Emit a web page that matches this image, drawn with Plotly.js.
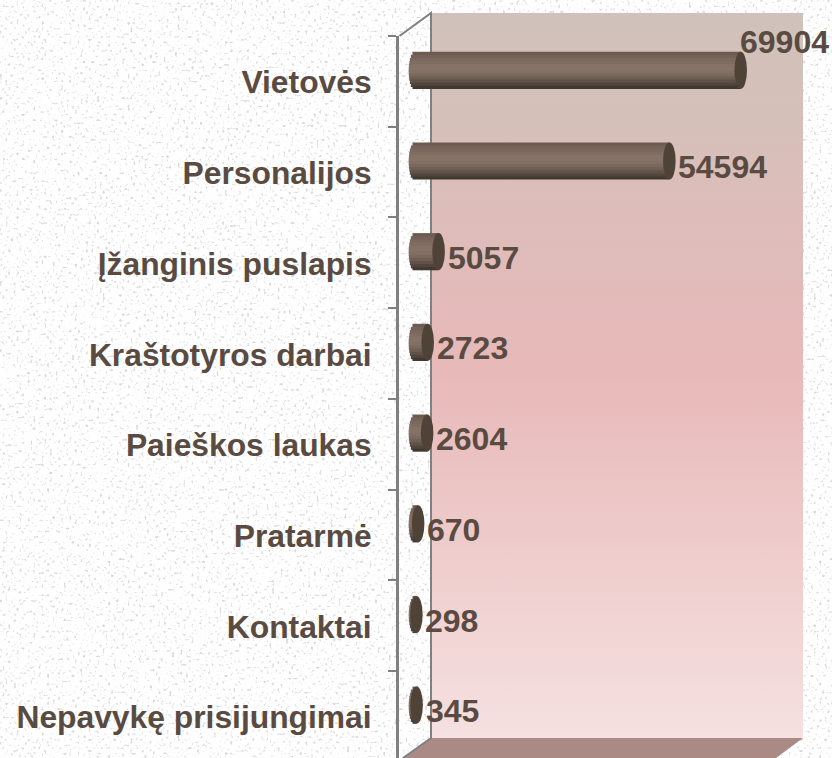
<!DOCTYPE html>
<html>
<head>
<meta charset="utf-8">
<script src="https://cdn.plot.ly/plotly-3.0.1.min.js"></script>
<style>
html,body{margin:0;padding:0;width:832px;height:758px;overflow:hidden;background:#f7f7f5}
#bg{position:absolute;left:0;top:0}
#chart{position:absolute;left:0;top:0;width:832px;height:758px}
.annotation-text,.ytick text{font-weight:bold !important}
</style>
</head>
<body>
<svg id="bg" width="832" height="758" xmlns="http://www.w3.org/2000/svg">
  <defs>
    <filter id="paper" x="0" y="0" width="100%" height="100%">
      <feTurbulence type="fractalNoise" baseFrequency="0.36" numOctaves="1" seed="11"/>
      <feColorMatrix type="matrix" values="0 0 0 0 0.70  0 0 0 0 0.70  0 0 0 0 0.70  0 0 0 7 -4.2"/>
      <feGaussianBlur stdDeviation="0.4"/>
    </filter>
    <linearGradient id="wall" x1="0" y1="0" x2="0" y2="1">
      <stop offset="0" stop-color="#cfc2ba"/>
      <stop offset="0.5" stop-color="#e8b9b9"/>
      <stop offset="1" stop-color="#f5e1e0"/>
    </linearGradient>
  </defs>
  <rect width="832" height="758" fill="#fefefe"/>
  <rect width="832" height="758" filter="url(#paper)"/>
  <polygon points="431,738 803,738 776,758 404,758" fill="#ab8a86"/>
  <rect x="431" y="13" width="372" height="725" fill="url(#wall)"/>
  <path d="M399.5,36 L431,13 L431,738 L403,758" fill="none" stroke="#808080" stroke-width="2"/>
</svg>
<div id="chart"></div>
<script>
var categories = ["Vietovės","Personalijos","Įžanginis puslapis","Kraštotyros darbai","Paieškos laukas","Pratarmė","Kontaktai","Nepavykę prisijungimai"];
var visits = [69904,54594,5057,2723,2604,670,298,345];
var bandColors = ["#6d5b50","#74625a","#7a685c","#806d61","#857165","#867266","#827064","#7a695e","#6e5e53","#60524a","#51463e","#41382f"];
var capColor = "#4f4338";
var textColor = "#5a4b42";
var fontFamily = "Liberation Sans, Arial, sans-serif";

var barThickness = 0.41;
var depthLift = 0.122;
var capHalfWidth = 1350;
var n = bandColors.length;
var traces = bandColors.map(function(col, k){
  var t = ((k + 0.5) / n) * 2 - 1;
  var inset = capHalfWidth * Math.sqrt(1 - t * t);
  return {
    type: "bar", orientation: "h", y: categories,
    x: visits.map(function(v){ return v + inset; }),
    base: -inset,
    width: barThickness / n + (k < n - 1 ? 0.014 : 0),
    offset: -depthLift - barThickness / 2 + k * barThickness / n,
    marker: {color: col, line: {width: 0}},
    hoverinfo: "skip", showlegend: false
  };
});

var shapes = visits.map(function(v, i){
  return {type: "circle", xref: "x", yref: "y", layer: "above",
    x0: v - capHalfWidth, x1: v + capHalfWidth,
    y0: i - depthLift - barThickness / 2, y1: i - depthLift + barThickness / 2,
    fillcolor: capColor, line: {width: 0}};
});

var annotations = visits.map(function(v, i){
  var first = i === 0;
  return {xref: "x", yref: "y", x: v, y: categories[i], text: String(v),
    showarrow: false, xanchor: "left", yanchor: "middle",
    xshift: first ? -1 : 9, yshift: first ? 39 : 5, borderpad: 0, borderwidth: 0,
    font: {family: fontFamily, size: 32, color: textColor}};
});

var layout = {
  width: 832, height: 758,
  margin: {l: 399, r: 0, t: 36, b: 0, pad: 0},
  paper_bgcolor: "rgba(0,0,0,0)", plot_bgcolor: "rgba(0,0,0,0)",
  barmode: "overlay", showlegend: false,
  xaxis: {range: [-3433, 89500], visible: false, fixedrange: true},
  yaxis: {
    type: "category", categoryorder: "array", categoryarray: categories,
    range: [7.46, -0.5], tickson: "boundaries", ticks: "outside", ticklen: 8, tickwidth: 2, tickcolor: "#808080",
    showline: true, linecolor: "#808080", linewidth: 3, showgrid: false, zeroline: false,
    ticklabelstandoff: 18, ticklabelshift: -1,
    tickfont: {family: fontFamily, size: 31.8, color: textColor}
  },
  shapes: shapes, annotations: annotations
};
Plotly.newPlot("chart", traces, layout, {displayModeBar: false, staticPlot: true});
</script>
</body>
</html>
